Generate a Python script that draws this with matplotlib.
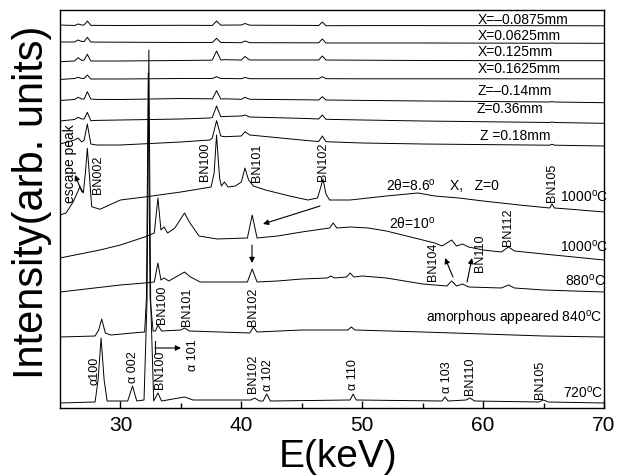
import matplotlib
matplotlib.use("Agg")
import matplotlib.pyplot as plt
from matplotlib.ticker import FixedLocator

plt.rcParams['font.family'] = ['Liberation Sans', 'DejaVu Sans']
plt.rcParams['mathtext.fontset'] = 'custom'
plt.rcParams['mathtext.rm'] = 'Liberation Sans'
plt.rcParams['mathtext.it'] = 'Liberation Sans:italic'

# ---------------- data (energy in keV, intensity in arb. units) ----------------
E_top = [25, 26.2, 26.5, 26.8, 27.0, 27.26, 27.55, 28, 30, 35, 37.4, 37.6, 37.95, 38.3,
         38.6, 40.0, 40.3, 40.7, 45.4, 46.4, 46.7, 47.0, 50, 55, 65.5, 65.7, 65.9, 70]
I_x_m00875 = [383, 382.5, 384, 383, 383, 387, 382.7, 382.6, 382.5, 382.7, 382.6, 382.5, 387, 382.8,
              382.9, 383, 384.5, 382.8, 382.6, 382.5, 386, 382.3, 382.4, 382.4, 382.3, 382.6, 382.3, 382.2]
I_x_00625 = [366, 366, 368, 366.5, 366.5, 370.7, 366, 365.9, 365.8, 365.5, 365.5, 365.5, 369.7, 365.5,
             365.5, 365.3, 367, 365.3, 365.2, 365.2, 369, 365, 365, 365, 364.8, 365.1, 364.8, 364.7]
I_x_0125 = [346.3, 347, 350.3, 347.5, 348, 353.7, 347, 347, 347, 347.5, 347.8, 348, 357, 348,
            348.3, 348, 351.5, 348, 348, 348, 352, 348, 347.8, 347.5, 347.3, 347.6, 347.3, 347.3]
I_x_01625 = [328.5, 329.5, 330.7, 329.5, 329.5, 333, 329, 329, 329, 329.5, 329.5, 329.5, 331.3, 329.5,
             329.5, 329.3, 330.5, 329.3, 329.3, 329.3, 331.3, 329.3, 329.2, 329.2, 329.2, 329.4, 329.2, 329.2]
I_z_m014 = [307.5, 308.5, 310.7, 309, 309, 316.3, 309, 308.6, 308.5, 309.5, 309.2, 309, 317.3, 309,
            309.2, 308.7, 310.7, 308.7, 308.2, 308, 311.3, 308, 307.6, 307, 306, 306.4, 306, 305.3]
I_z_036 = [287, 288.5, 290.7, 289, 289, 295.7, 287.3, 287.6, 288, 289, 290, 290.5, 302, 291.3,
           291.5, 292, 293, 291, 289.5, 289, 293, 288.7, 288, 287, 285.5, 286, 285.5, 284.7]
I_z_018 = [264, 268, 270, 266, 268, 284, 264, 263, 263, 266, 268, 270, 287.3, 272,
           271.3, 272, 276.3, 273, 267.5, 266.5, 272, 266.3, 265, 264, 262.8, 263.8, 262.8, 262]

E_1000a = [25, 25.5, 26.1, 26.65, 26.93, 27.1, 27.26, 27.45, 27.62, 28.3,
           30, 32, 35, 37.5, 37.75, 37.95, 38.2, 38.35, 38.6, 38.9,
           39.5, 40.0, 40.3, 40.6, 41, 42, 44, 45.5, 46.3, 46.55,
           46.75, 47.0, 47.3, 49, 52, 54.6, 56, 58, 60, 63,
           65.5, 65.7, 65.9, 67, 70]
I_1000a = [193, 195, 206.3, 221.3, 215, 235, 259.7, 230, 201.3, 198.7,
           208, 211, 216, 221, 235, 273, 230, 222, 226, 221,
           222, 226, 240, 228, 222, 218, 212, 208, 210, 220,
           229, 214, 208, 208, 212, 215, 212, 210, 207, 203,
           200, 204, 200, 199, 196]

E_1000b = [25, 28.3, 30, 32, 32.8, 33.1, 33.35, 33.6, 33.9, 34.5,
           35.3, 35.7, 36.5, 38, 40.5, 40.9, 41.3, 43, 45, 47.3,
           47.6, 47.9, 49, 50.5, 52, 54, 56, 56.6, 57.0, 57.4,
           57.8, 58.3, 58.8, 60, 61.5, 62.1, 62.6, 65, 70]
I_1000b = [150, 158, 163, 171, 175, 210, 178, 181, 175, 180,
           195, 186, 172, 169, 170, 193, 170, 172, 176, 180,
           185, 180, 181, 180, 177, 171, 165, 162, 165, 168,
           162, 164, 161, 158, 156, 161, 157, 154, 148]

E_880 = [25, 30, 32, 32.8, 33.1, 33.35, 33.6, 34, 35.3, 35.8,
         36.6, 40.5, 40.9, 41.3, 43, 45, 47.1, 47.4, 47.7, 48.7,
         49.0, 49.3, 50, 52, 55, 57.0, 57.4, 57.8, 58.3, 58.8,
         61.5, 62.1, 62.6, 65, 70]
I_880 = [116, 123, 125, 126, 145, 128, 130, 127, 136, 131,
         126, 126, 139, 126, 127, 129, 130, 132, 130, 131,
         135, 131, 132, 130, 124, 122, 127, 122, 124, 121,
         120, 123, 120, 118, 116]

E_840 = [25, 27.9, 28.2, 28.45, 28.75, 29.2, 31, 32.0, 32.15, 32.3,
         32.45, 32.7, 32.9, 33.1, 33.4, 35.0, 35.3, 35.7, 40.7, 41.0,
         41.3, 45, 48.8, 49.1, 49.4, 55, 60, 65, 70]
I_840 = [71, 72, 78, 89, 75, 73, 75, 76, 110, 335,
         110, 77, 77, 83, 77, 78, 80, 77, 75, 81,
         76, 78, 78, 81, 78, 76, 74, 72, 71]

E_720 = [25, 27.9, 28.15, 28.4, 28.65, 28.9, 30.6, 31.0, 31.35, 31.95,
         32.2, 32.35, 32.5, 32.75, 33.1, 33.4, 35.3, 36, 40.8, 41.1,
         41.5, 41.8, 42.1, 42.4, 49.0, 49.25, 49.5, 56.6, 56.85, 57.1,
         58.6, 58.9, 59.3, 64.6, 65.0, 65.4, 70]
I_720 = [5, 6, 28, 70, 28, 7, 7, 22, 7, 8,
         108, 358, 108, 7, 15, 7, 11, 8, 8, 10,
         7, 7, 14, 7, 8, 14, 8, 7, 11, 7,
         8, 10, 7, 6, 8, 6, 5]

top_curves = [I_x_m00875, I_x_00625, I_x_0125, I_x_01625, I_z_m014, I_z_036, I_z_018]
top_labels = ["X=\u20130.0875mm", "X=0.0625mm", "X=0.125mm", "X=0.1625mm",
              "Z=\u20130.14mm", "Z=0.36mm", "Z =0.18mm"]

x_ticks = [30, 40, 50, 60, 70]
x_minor = [35, 45, 55, 65]

# ---------------- figure ----------------
W, H = 627, 476
fig = plt.figure(figsize=(W / 100, H / 100), dpi=100)
L, R, T, B = 60, 604, 10, 408
ax = fig.add_axes([L / W, (H - B) / H, (R - L) / W, (B - T) / H])
X0, X1 = 25, 70
ax.set_xlim(X0, X1)
ax.set_ylim(0, B - T)


def P(px, py):
    """pixel position in the picture -> data coordinates"""
    return X0 + (px - L) * (X1 - X0) / (R - L), B - py


lw = 0.7
for I in top_curves:
    ax.plot(E_top, I, color='black', lw=lw)
for E, I in [(E_1000a, I_1000a), (E_1000b, I_1000b), (E_880, I_880),
             (E_840, I_840), (E_720, I_720)]:
    ax.plot(E, I, color='black', lw=lw)

# axis styling
for s in ax.spines.values():
    s.set_linewidth(1.0)
ax.set_yticks([])
ax.xaxis.set_major_locator(FixedLocator(x_ticks))
ax.xaxis.set_minor_locator(FixedLocator(x_minor))
ax.set_xticklabels([str(t) for t in x_ticks])
ax.tick_params(axis='x', which='major', direction='in', length=5, width=1.0,
               labelsize=15, pad=6)
ax.tick_params(axis='x', which='minor', direction='in', length=3.5, width=1.0)

fig.text(32 / W, 1 - 202 / H, "Intensity(arb. units)", rotation=90,
         ha='center', va='center', fontsize=30)
fig.text(338 / W, 1 - 467 / H, "E(keV)", ha='center', va='baseline', fontsize=28)

deg = "$^{\\rm o}$"
fs = 10

# horizontal labels: (text, left px, centre y px)
hl = [(top_labels[0], 478, 20), (top_labels[1], 478, 36), (top_labels[2], 478, 52),
      (top_labels[3], 478, 69), (top_labels[4], 478, 91), (top_labels[5], 476, 109),
      (top_labels[6], 480, 136),
      ("2\u03b8=8.6" + deg, 386, 186), ("X,   Z=0", 450, 186),
      ("1000" + deg + "C", 560, 197), ("2\u03b8=10" + deg, 389, 224),
      ("1000" + deg + "C", 560, 247), ("880" + deg + "C", 565, 281),
      ("720" + deg + "C", 563, 393)]
for t, px, py in hl:
    ax.text(*P(px, py), t, ha='left', va='center', fontsize=fs, clip_on=False)
ax.text(*P(602, 318), "amorphous appeared 840" + deg + "C", ha='right', va='center',
        fontsize=fs)

# rotated labels: (text, centre x px, centre y px, size)
rl = [("escape peak", 70, 164, 10), ("BN002", 98, 175, 9), ("BN100", 205, 162, 9),
      ("BN101", 257, 163, 9), ("BN102", 323, 162, 9), ("BN105", 552, 183, 9),
      ("BN112", 508, 227, 9), ("BN104", 433, 262, 9), ("BN110", 480, 253, 9),
      ("BN100", 162, 305, 9), ("BN101", 187, 307, 9), ("BN102", 253, 307, 9),
      ("\u03b1100", 95, 371, 9), ("\u03b1 002", 133, 367, 9), ("BN100", 160, 370, 9),
      ("\u03b1 101", 193, 355, 9), ("BN102", 253, 374, 9), ("\u03b1 102", 268, 375, 9),
      ("\u03b1 110", 353, 375, 9), ("\u03b1 103", 447, 377, 9), ("BN110", 470, 376, 9),
      ("BN105", 540, 380, 9)]
for t, px, py, s in rl:
    ax.text(*P(px, py), t, rotation=90, ha='center', va='center', fontsize=s)

# arrows: (tail px, head px)
arrows = [((82, 192), (75, 175)), ((320, 206), (263, 224)), ((252, 245), (252, 263)),
          ((453, 277), (445, 258)), ((467, 282), (472, 258)), ((155, 348), (181, 348))]
for (tx, ty), (hx, hy) in arrows:
    ax.annotate('', xy=P(hx, hy), xytext=P(tx, ty),
                arrowprops=dict(arrowstyle='-|>', color='black', lw=0.8,
                                mutation_scale=8, shrinkA=0, shrinkB=0))
ax.plot(*zip(P(155, 341), P(155, 353)), color='black', lw=0.8)

fig.savefig("out.png", dpi=100)
